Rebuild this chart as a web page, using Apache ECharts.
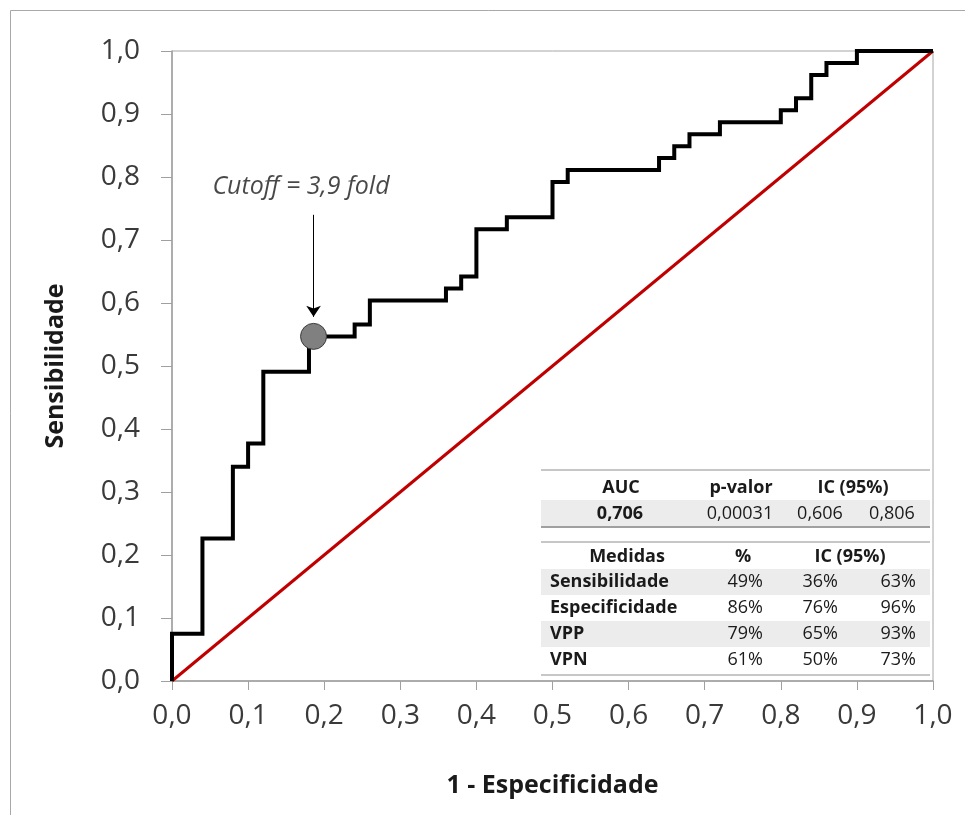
<!DOCTYPE html>
<html>
<head>
<meta charset="utf-8">
<script src="https://cdn.jsdelivr.net/npm/echarts@6/dist/echarts.min.js"></script>
<style>
  html, body { margin: 0; padding: 0; background: #fff; }
  #grafico { width: 965px; height: 815px; }
</style>
</head>
<body>
<div id="grafico"></div>
<script>
// vertices of the ROC step curve (1 - especificidade, sensibilidade)
var rocX = [0, 0, 0.04, 0.04, 0.08, 0.08, 0.10, 0.10, 0.12, 0.12, 0.18, 0.18, 0.24, 0.24,
  0.26, 0.26, 0.36, 0.36, 0.38, 0.38, 0.40, 0.40, 0.44, 0.44, 0.50, 0.50, 0.52, 0.52,
  0.64, 0.64, 0.66, 0.66, 0.68, 0.68, 0.72, 0.72, 0.80, 0.80, 0.82, 0.82, 0.84, 0.84,
  0.86, 0.86, 0.90, 0.90, 1.00];
var rocY = [0, 0.075, 0.075, 0.226, 0.226, 0.340, 0.340, 0.377, 0.377, 0.491, 0.491,
  0.547, 0.547, 0.566, 0.566, 0.604, 0.604, 0.623, 0.623, 0.642, 0.642, 0.717, 0.717,
  0.736, 0.736, 0.792, 0.792, 0.811, 0.811, 0.830, 0.830, 0.849, 0.849, 0.868, 0.868,
  0.887, 0.887, 0.906, 0.906, 0.925, 0.925, 0.962, 0.962, 0.981, 0.981, 1.0, 1.0];
var diagonal = [[0, 0], [1, 1]];
var cutoffPoint = [0.186, 0.547];
var cutoffText = 'Cutoff = 3,9 fold';
var arrowFrom = [0.186, 0.740];
var arrowTo = [0.186, 0.578];
var labelPos = [0.1695, 0.784];

// table
var aucHeader = ['AUC', 'p-valor', 'IC (95%)'];
var aucRow = ['0,706', '0,00031', '0,606', '0,806'];
var medHeader = ['Medidas', '%', 'IC (95%)'];
var medNames = ['Sensibilidade', 'Especificidade', 'VPP', 'VPN'];
var medPct = ['49%', '86%', '79%', '61%'];
var medLow = ['36%', '76%', '65%', '50%'];
var medHigh = ['63%', '96%', '93%', '73%'];

var rocData = rocX.map(function (x, i) { return [x, rocY[i]]; });

var fmt = function (v) { return v.toFixed(1).replace('.', ','); };
var FONT = '"Open Sans", "Noto Sans", sans-serif';

// table graphic
var T = { left: 541, right: 930 };
var g = [];
function txt(x, y, s, align, bold) {
  g.push({ type: 'text', x: x, y: y, z: 10, style: {
    text: s, x: 0, y: 0, align: align, verticalAlign: 'middle',
    font: (bold ? 'bold ' : '') + '18px ' + FONT, fill: '#1a1a1a' } });
}
function band(y0, y1) {
  g.push({ type: 'rect', z: 9, shape: { x: T.left, y: y0, width: T.right - T.left, height: y1 - y0 },
    style: { fill: '#ececec' } });
}
function hline(y, w, c) {
  g.push({ type: 'line', z: 11, shape: { x1: T.left, y1: y, x2: T.right, y2: y },
    style: { stroke: c, lineWidth: w } });
}
// white backdrop
g.push({ type: 'rect', z: 8, shape: { x: T.left, y: 470, width: T.right - T.left, height: 205 }, style: { fill: '#fff' } });
band(500, 527);
var rowY = [582, 608, 634, 660];
band(569, 595);
band(621, 647);
hline(470, 1.5, '#b5b5b5');
hline(527, 2, '#a0a0a0');
hline(542, 1.5, '#b5b5b5');
hline(675, 1.5, '#b5b5b5');
txt(621, 488, aucHeader[0], 'center', true);
txt(741, 488, aucHeader[1], 'center', true);
txt(853, 488, aucHeader[2], 'center', true);
txt(620, 514, aucRow[0], 'center', true);
txt(740, 514, aucRow[1], 'center', false);
txt(820, 514, aucRow[2], 'center', false);
txt(892, 514, aucRow[3], 'center', false);
txt(627, 557, medHeader[0], 'center', true);
txt(743, 557, medHeader[1], 'center', true);
txt(850, 557, medHeader[2], 'center', true);
medNames.forEach(function (n, i) {
  txt(550, rowY[i], n, 'left', true);
  txt(763, rowY[i], medPct[i], 'right', false);
  txt(838, rowY[i], medLow[i], 'right', false);
  txt(916, rowY[i], medHigh[i], 'right', false);
});
// outer frame
g.push({ type: 'rect', z: 0, shape: { x: 10.5, y: 10.5, width: 1000, height: 1000 },
  style: { fill: 'none', stroke: '#a8a8a8', lineWidth: 1 } });

var myChart = echarts.init(document.getElementById('grafico'));

var option = {
  animation: false,
  backgroundColor: '#fff',
  grid: { left: 172, right: 32, top: 51, bottom: 134, show: true, borderColor: '#a6a6a6', borderWidth: 1 },
  xAxis: {
    type: 'value', min: 0, max: 1, interval: 0.1,
    name: '1 - Especificidade', nameLocation: 'middle', nameGap: 92,
    nameTextStyle: { fontFamily: FONT, fontWeight: 'bold', fontSize: 25, color: '#1a1a1a' },
    axisLine: { lineStyle: { color: '#a0a0a0', width: 1.5 } },
    axisTick: { show: true, length: 9, lineStyle: { color: '#a0a0a0' } },
    axisLabel: { formatter: fmt, fontFamily: FONT, fontSize: 28, color: '#3a3a3a', margin: 21 },
    splitLine: { show: false }
  },
  yAxis: {
    type: 'value', min: 0, max: 1, interval: 0.1,
    name: 'Sensibilidade', nameLocation: 'middle', nameGap: 104, nameRotate: 90,
    nameTextStyle: { fontFamily: FONT, fontWeight: 'bold', fontSize: 25, color: '#1a1a1a' },
    axisLine: { lineStyle: { color: '#a0a0a0', width: 1.5 } },
    axisTick: { show: true, length: 11, lineStyle: { color: '#a0a0a0' } },
    axisLabel: { formatter: fmt, fontFamily: FONT, fontSize: 28, color: '#3a3a3a', margin: 32 },
    splitLine: { show: false }
  },
  graphic: g,
  series: [
    {
      name: 'Referência', type: 'line', data: diagonal, symbol: 'none',
      lineStyle: { color: '#c00000', width: 3 }, z: 2
    },
    {
      name: 'ROC', type: 'line', data: rocData, symbol: 'none',
      lineStyle: { color: '#000', width: 4, join: 'miter' }, z: 3
    },
    {
      name: 'Cutoff', type: 'scatter', data: [cutoffPoint], symbolSize: 26, z: 5,
      itemStyle: { color: '#808080', borderColor: '#3a3a3a', borderWidth: 1, opacity: 1 },
      markLine: {
        silent: true, symbol: ['none', 'arrow'], symbolSize: 11,
        lineStyle: { color: '#000', width: 1, type: 'solid' },
        label: { show: false },
        data: [[{ coord: arrowFrom }, { coord: arrowTo }]]
      }
    },
    {
      name: 'Texto', type: 'scatter', data: [labelPos], symbolSize: 0, z: 6,
      label: { show: true, position: 'inside', formatter: cutoffText,
        fontFamily: FONT, fontStyle: 'italic', fontSize: 25, color: '#1a1a1a', textBorderWidth: 0 }
    }
  ]
};

option && myChart.setOption(option);
</script>
</body>
</html>
